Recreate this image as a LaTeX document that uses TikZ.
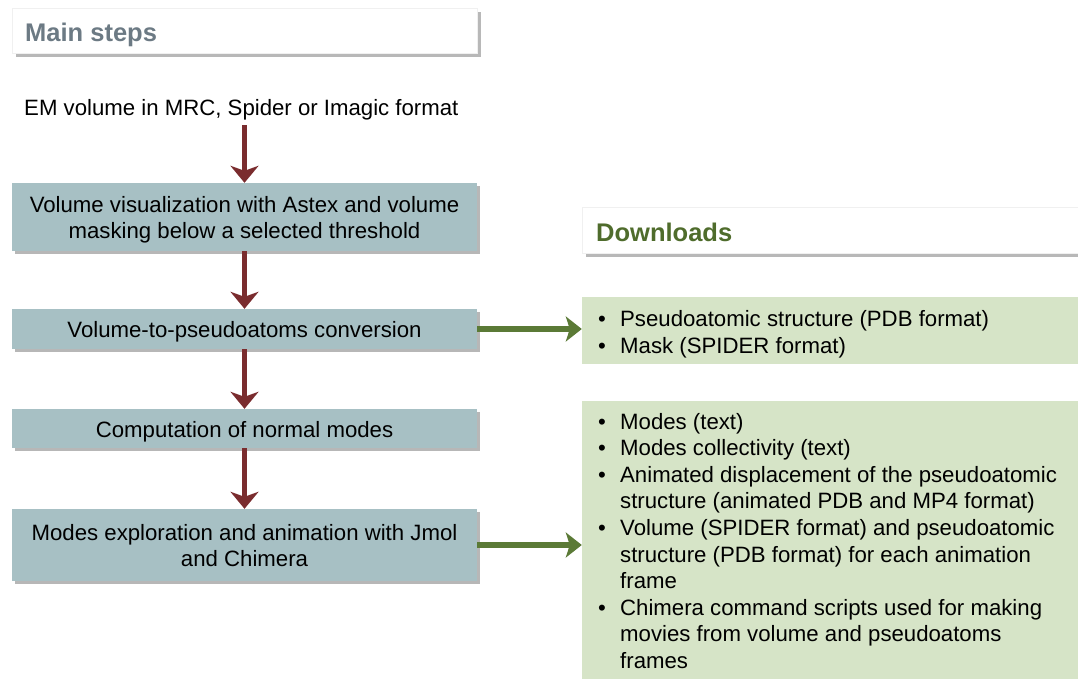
\documentclass[tikz,border=0pt]{standalone}
\usepackage{fontspec}
\setmainfont{Liberation Sans}
\usetikzlibrary{arrows.meta,shadows}
\definecolor{stepfill}{HTML}{A7C0C4}
\definecolor{dlfill}{HTML}{D6E4C7}
\definecolor{redarr}{HTML}{7A2C2E}
\definecolor{greenarr}{HTML}{5B7A36}
\definecolor{hdgray}{HTML}{6C7A84}
\definecolor{hdgreen}{HTML}{4F6C2C}
\newcommand{\steptext}[1]{\raisebox{-3.5pt}[\height][\depth]{\begin{tabular}{@{}c@{}}#1\end{tabular}}}
\begin{document}
\begin{tikzpicture}[x=1pt,y=-1pt,
  every node/.style={font=\fontsize{22.2}{26}\selectfont, inner sep=0pt},
  boxshadow/.style={drop shadow={shadow xshift=3pt, shadow yshift=-3pt, opacity=0.4, fill=black!70}},
  stepbox/.style={fill=stepfill, minimum width=465pt, align=center, boxshadow},
  headbox/.style={fill=white, draw=black!6, drop shadow={shadow xshift=4pt, shadow yshift=-4pt, opacity=0.35, fill=black!80}},
  headtext/.style={font=\fontsize{25.5}{30}\selectfont\bfseries, anchor=base west},
  dlbox/.style={fill=dlfill, minimum width=496pt},
  dltext/.style={font=\fontsize{22.2}{26.6}\selectfont, anchor=base west, align=left},
  redarrow/.style={draw=redarr, line width=5.5pt, -{Stealth[length=17pt,width=28pt,inset=5pt]}},
  greenarrow/.style={draw=greenarr, line width=6pt, -{Stealth[length=16pt,width=25pt,inset=4pt]}}]
\useasboundingbox (0,0) rectangle (1078,678);

% Main steps header
\node[headbox, minimum width=465pt, minimum height=45pt] (mh) at (244.5,30.5) {};
\node[headtext, text=hdgray] (mht) at (25,41.7) {Main steps};

% Input text
\node[anchor=base west, text depth=10pt] (em) at (24,115) {EM volume in MRC, Spider or Imagic format};

% Step boxes
\node[stepbox, minimum height=68pt] (b1) at (244.5,217) {\steptext{Volume visualization with Astex and volume\\masking below a selected threshold}};
\node[stepbox, minimum height=40pt] (b2) at (244.5,329) {\steptext{Volume-to-pseudoatoms conversion}};
\node[stepbox, minimum height=39pt] (b3) at (244.5,428.5) {\steptext{Computation of normal modes}};
\node[stepbox, minimum height=72pt] (b4) at (244.5,545) {\steptext{Modes exploration and animation with Jmol\\and Chimera}};

% Downloads header
\node[headbox, minimum width=496pt, minimum height=46pt] (dh) at (830,230) {};
\node[headtext, text=hdgreen] (dht) at (596,241.7) {Downloads};

% Download boxes
\node[dlbox, minimum height=67pt] (g1) at (830,330.5) {};
\node[dltext] (g1t) at (598,326.7) {\begin{tabular}[t]{@{}p{22pt}@{}l@{}}
\textbullet & Pseudoatomic structure (PDB format)\\
\textbullet & Mask (SPIDER format)
\end{tabular}};

\node[dlbox, minimum height=278pt] (g2) at (830,539.5) {};
\node[dltext] (g2t) at (598,429) {\begin{tabular}[t]{@{}p{22pt}@{}l@{}}
\textbullet & Modes (text)\\
\textbullet & Modes collectivity (text)\\
\textbullet & Animated displacement of the pseudoatomic\\
 & structure (animated PDB and MP4 format)\\
\textbullet & Volume (SPIDER format) and pseudoatomic\\
 & structure (PDB format) for each animation\\
 & frame\\
\textbullet & Chimera command scripts used for making\\
 & movies from volume and pseudoatoms\\
 & frames
\end{tabular}};

% Connectors
\draw[redarrow] (em.south -| b1.north) -- (b1.north);
\draw[redarrow] (b1.south) -- (b2.north);
\draw[redarrow] (b2.south) -- (b3.north);
\draw[redarrow] (b3.south) -- (b4.north);
\draw[greenarrow] (b2.east) -- (b2.east -| g1.west);
\draw[greenarrow] (b4.east) -- (b4.east -| g2.west);
\end{tikzpicture}
\end{document}
